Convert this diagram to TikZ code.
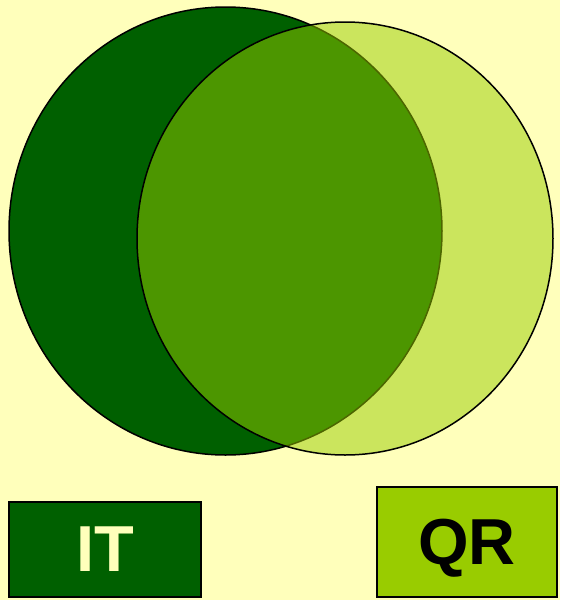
\documentclass[tikz,border=0pt]{standalone}
\usepackage{fontspec}
\setmainfont{Liberation Sans}
\usetikzlibrary{shapes.geometric}
\begin{document}
\begin{tikzpicture}[x=1pt,y=-1pt,
  venn/.style={draw=black,line width=1.5pt,shape=ellipse,inner sep=0pt},
  lbl/.style={draw=black,line width=1.5pt,inner sep=0pt,text depth=0pt,font=\fontsize{65}{65}\selectfont\bfseries}]
\definecolor{bg}{HTML}{FFFFBB}
\definecolor{dkgreen}{HTML}{006000}
\definecolor{ltgreen}{HTML}{99CC00}
\fill[bg] (0,0) rectangle (560,600);
\useasboundingbox (0,0) rectangle (560,600);
\node[venn,fill=dkgreen,minimum width=433pt,minimum height=448pt] (it) at (225.5,231) {};
\node[venn,fill=ltgreen,fill opacity=0.5,draw opacity=1,minimum width=416pt,minimum height=433pt] (qr) at (345,238.5) {};
\node[lbl,fill=dkgreen,text=bg,minimum width=192pt,minimum height=95pt] (itbox) at (105,549.5) {IT};
\node[lbl,fill=ltgreen,text=black,minimum width=180pt,minimum height=110pt] (qrbox) at (467,542) {QR};
\end{tikzpicture}
\end{document}
